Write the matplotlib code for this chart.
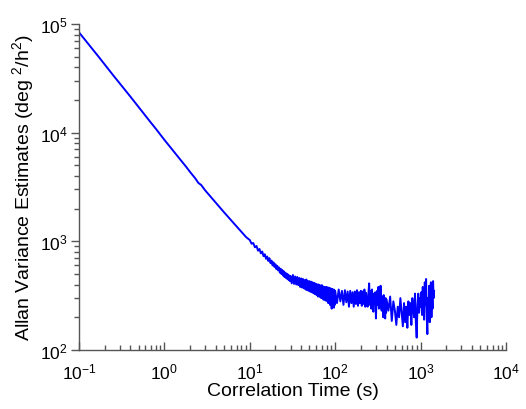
import matplotlib
matplotlib.use("Agg")
import matplotlib.pyplot as plt
from matplotlib.ticker import LogLocator, NullFormatter

plt.rcParams['font.family'] = ['Liberation Sans', 'DejaVu Sans']
plt.rcParams['mathtext.fontset'] = 'custom'
plt.rcParams['mathtext.rm'] = 'Liberation Sans'
plt.rcParams['mathtext.default'] = 'regular'

# correlation time (s) and Allan variance (deg^2/h^2)
tau_smooth = [0.1, 0.13, 0.17, 0.2, 0.25, 0.3, 0.4, 0.5, 0.6, 0.7, 0.8, 1.0,
              1.2, 1.5, 1.8, 2.0, 2.3, 2.5, 2.7, 3.0, 3.5, 4.0, 4.5, 5.0,
              5.5, 6.0, 7.0, 8.0, 9.0, 9.5]
avar_smooth = [84000, 65000, 50000, 42500, 34000, 28500, 21500, 17200, 14300,
               12300, 10800, 8600, 7200, 5800, 4850, 4350, 3800, 3450, 3300,
               2950, 2560, 2260, 2030, 1850, 1700, 1570, 1370, 1220, 1100,
               1060]

# 10 s .. 30 s, every half second
tau_knee = [10, 10.5, 11, 11.5, 12, 12.5, 13, 13.5, 14, 14.5, 15, 15.5, 16,
            16.5, 17, 17.5, 18, 18.5, 19, 19.5, 20, 20.5, 21, 21.5, 22, 22.5,
            23, 23.5, 24, 24.5, 25, 25.5, 26, 26.5, 27, 27.5, 28, 28.5, 29,
            29.5, 30]
avar_knee = [1030, 950, 965, 880, 905, 820, 850, 775, 805, 730, 760, 690, 725,
             660, 700, 630, 665, 600, 640, 580, 615, 555, 595, 540, 575, 515,
             560, 500, 545, 485, 530, 470, 515, 460, 505, 450, 495, 440, 485,
             430, 480]

# 31 s .. 100 s, every second
tau_mid = [31, 32, 33, 34, 35, 36, 37, 38, 39, 40, 41, 42, 43, 44, 45, 46, 47,
           48, 49, 50, 51, 52, 53, 54, 55, 56, 57, 58, 59, 60, 61, 62, 63, 64,
           65, 66, 67, 68, 69, 70, 71, 72, 73, 74, 75, 76, 77, 78, 79, 80, 81,
           82, 83, 84, 85, 86, 87, 88, 89, 90, 91, 92, 93, 94, 95, 96, 97, 98,
           99, 100]
avar_mid = [410, 490, 405, 475, 400, 470, 395, 460, 380, 455, 375, 450, 370,
            440, 360, 445, 355, 430, 350, 430, 345, 425, 340, 420, 335, 415,
            330, 410, 325, 405, 320, 400, 310, 400, 315, 395, 305, 390, 300,
            395, 300, 385, 290, 380, 295, 380, 285, 375, 290, 380, 280, 370,
            270, 375, 285, 365, 260, 370, 280, 360, 240, 365, 275, 355, 270,
            360, 245, 355, 260, 350]

tau_flat = [105, 110, 115, 120, 125, 130, 135, 140, 145, 150, 155, 160, 165,
            170, 175, 180, 185, 190, 195, 200, 205, 210, 215, 220, 225, 230,
            235, 240, 245, 250, 255, 260, 265, 270, 275, 280, 285, 290, 295,
            300, 305, 310, 315, 320, 325, 330, 335, 340, 345, 350, 355, 360,
            365, 370, 375, 380, 385, 390, 395, 400]
avar_flat = [270, 360, 280, 350, 260, 355, 275, 345, 250, 350, 270, 340, 250,
             345, 265, 355, 255, 340, 270, 350, 255, 345, 265, 360, 250, 335,
             270, 250, 330, 410, 260, 350, 240, 360, 260, 225, 330, 280, 340,
             195, 290, 350, 260, 380, 240, 330, 270, 390, 250, 230, 310, 270,
             200, 320, 240, 280, 195, 300, 220, 290]

tau_tail = [420, 440, 460, 480, 500, 520, 540, 560, 580, 600, 620, 640, 660,
            680, 700, 720, 740, 760, 780, 800, 820, 840, 860, 880, 900, 920,
            940, 960, 980, 1000, 1020, 1040, 1060, 1080, 1100, 1120, 1140,
            1160, 1180, 1200, 1220, 1240, 1260, 1280, 1300, 1320, 1340, 1360,
            1380, 1400, 1420, 1440]
avar_tail = [230, 310, 185, 280, 230, 170, 250, 200, 300, 220, 165, 270, 180,
             250, 160, 280, 210, 270, 170, 300, 240, 200, 330, 180, 130, 260,
             330, 220, 300, 250, 340, 210, 380, 240, 190, 420, 260, 450, 200,
             140, 300, 230, 390, 180, 270, 420, 200, 330, 240, 430, 300, 350]

tau = tau_smooth + tau_knee + tau_mid + tau_flat + tau_tail
avar = avar_smooth + avar_knee + avar_mid + avar_flat + avar_tail

fig = plt.figure(figsize=(5.26, 4.10), dpi=100)
ax = fig.add_axes([0.150, 0.144, 0.812, 0.795])
ax.plot(tau, avar, color='#0000ff', linewidth=1.4)

ax.set_xscale('log')
ax.set_yscale('log')
ax.set_xlim(0.1, 1e4)
ax.set_ylim(1e2, 1e5)

ax.spines['top'].set_visible(False)
ax.spines['right'].set_visible(False)
for s in ('left', 'bottom'):
    ax.spines[s].set_color('#555555')
    ax.spines[s].set_linewidth(1.0)

ax.xaxis.set_minor_locator(LogLocator(base=10, subs=range(2, 10), numticks=20))
ax.yaxis.set_minor_locator(LogLocator(base=10, subs=range(2, 10), numticks=20))
ax.xaxis.set_minor_formatter(NullFormatter())
ax.yaxis.set_minor_formatter(NullFormatter())

ax.tick_params(axis='x', which='major', direction='in', length=6, width=1,
               color='#555555', labelsize=12.5, pad=8)
ax.tick_params(axis='x', which='minor', direction='in', length=3.5, width=1,
               color='#555555')
ax.tick_params(axis='y', which='major', direction='out', length=6, width=1,
               color='#555555', labelsize=12.5, pad=2)
ax.tick_params(axis='y', which='minor', direction='out', length=3.5, width=1,
               color='#555555')

ax.set_xlabel('Correlation Time (s)', fontsize=14, labelpad=1)
ax.set_ylabel('Allan Variance Estimates (deg $^{2}$/h$^{2}$)', fontsize=14,
              labelpad=3)

fig.savefig('out.png', dpi=100)
